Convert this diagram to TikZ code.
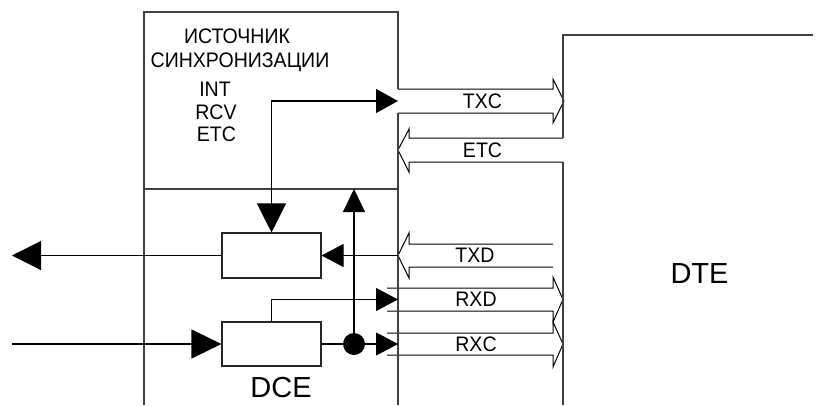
\documentclass[tikz,border=0pt]{standalone}
\usepackage{fontspec}
\setmainfont{Liberation Sans}
\usetikzlibrary{arrows.meta}
\newcommand{\narrowtxt}[1]{\scalebox{0.93}[1]{#1}}
\begin{document}
\begin{tikzpicture}[x=1pt,y=-1pt,
  frame/.style={draw=black!75, line width=1.2pt},
  wire/.style={draw=black, line width=1.1pt},
  hollow/.style={draw=black, line width=1pt, line join=miter},
  blk/.style={draw=black!85, line width=1.1pt, minimum width=99pt, minimum height=45pt, inner sep=0pt},
  lbl/.style={inner sep=0pt, font=\fontsize{21}{24}\selectfont},
  big/.style={inner sep=0pt, font=\fontsize{29}{32}\selectfont},
  tipL/.style={-{Triangle[length=29pt,width=29pt]}},
  dotst/.style={circle, fill=black, minimum size=22pt, inner sep=0pt}
]
\useasboundingbox (0,0) rectangle (817,405);

% hollow arrows
\draw[hollow] (398,89) -- (553,89) -- (553,79) -- (564,101) -- (553,123) -- (553,113) -- (398,113);
\draw[hollow] (563,138) -- (409,138) -- (409,129) -- (398,150) -- (409,172) -- (409,162) -- (563,162);
\draw[hollow] (553,244) -- (409,244) -- (409,233) -- (398,255.5) -- (409,278) -- (409,267) -- (553,267);
\draw[hollow] (387,288) -- (553,288) -- (553,277) -- (563,299.5) -- (553,322) -- (553,311) -- (387,311);
\draw[hollow] (387,333) -- (553,333) -- (553,322) -- (563,344) -- (553,367) -- (553,355) -- (387,355);

% frames
\draw[frame] (144,405) -- (144,12) -- (398,12) -- (398,89);
\draw[frame] (398,113) -- (398,405);
\draw[frame] (144,189) -- (398,189);
\draw[frame] (563,138) -- (563,35) -- (813,35);
\draw[frame] (563,162) -- (563,405);

% labels in hollow arrows
\node[lbl] (lTXC) at (482.5,101) {\narrowtxt{TXC}};
\node[lbl] (lETC) at (482.5,150) {\narrowtxt{ETC}};
\node[lbl] (lTXD) at (475,255.5) {\narrowtxt{TXD}};
\node[lbl] (lRXD) at (476,299.5) {\narrowtxt{RXD}};
\node[lbl] (lRXC) at (476,344) {\narrowtxt{RXC}};

% source texts
\node[lbl, anchor=base] (s1) at (237,43.3) {\narrowtxt{ИСТОЧНИК}};
\node[lbl, anchor=base] (s2) at (240,67.3) {\narrowtxt{СИНХРОНИЗАЦИИ}};
\node[lbl, anchor=base] (s3) at (215,96) {\narrowtxt{INT}};
\node[lbl, anchor=base] (s4) at (216,119.3) {\narrowtxt{RCV}};
\node[lbl, anchor=base] (s5) at (216.5,141.7) {\narrowtxt{ETC}};

\node[big] (dce) at (281,388) {DCE};
\node[big] (dte) at (699.5,273.5) {DTE};

% blocks
\node[blk] (b1) at (271.5,255.5) {};
\node[blk, minimum height=44pt] (b2) at (271.5,344) {};
\node[dotst] (dot) at (354,344) {};

\coordinate (txcin) at (398,101);
\coordinate (outL) at (12,255.5);
\coordinate (txdtip) at (398,255.5);
\coordinate (inL) at (12,344);
\coordinate (rxdin) at (398,299.5);
\coordinate (rxcin) at (398,344);
\coordinate (divup) at (354,189);

\draw[wire, {Triangle[length=29pt,width=29pt]}-{Triangle[length=22pt,width=24pt]}] (b1.north) |- (txcin);
\draw[wire, tipL] (b1.west) -- (outL);
\draw[wire, -{Triangle[length=22pt,width=23pt]}] (txdtip) -- (b1.east);
\draw[wire, -{Triangle[length=30pt,width=29pt]}] (inL) -- (b2.west);
\draw[wire, -{Triangle[length=22pt,width=23pt]}] (b2.north) |- (rxdin);
\draw[wire] (b2.east) -- (dot);
\draw[wire, -{Triangle[length=22pt,width=23pt]}] (dot) -- (rxcin);
\draw[wire, -{Triangle[length=23pt,width=22pt]}] (dot) -- (divup);
\end{tikzpicture}
\end{document}
